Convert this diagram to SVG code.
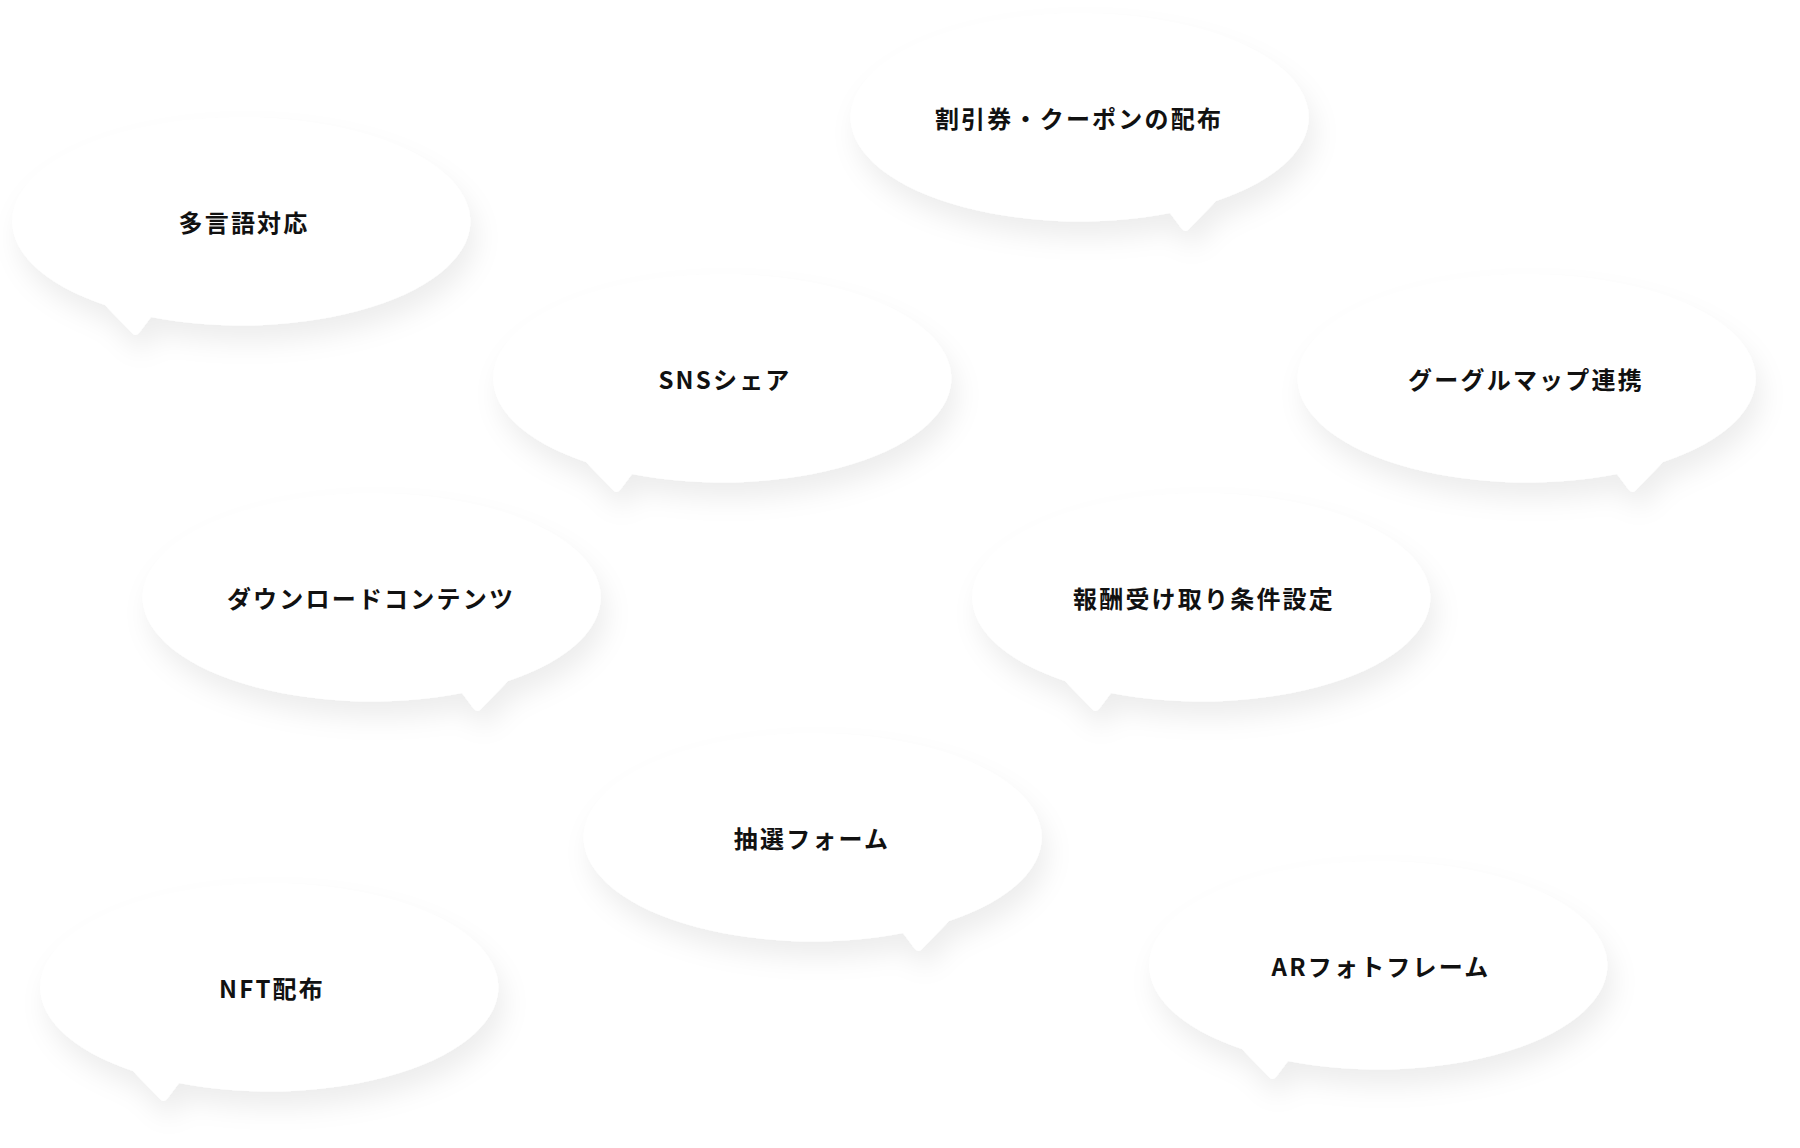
<svg xmlns="http://www.w3.org/2000/svg" width="1800" height="1148" viewBox="0 0 1800 1148">
  <defs>
    <filter id="sh" x="-25%" y="-30%" width="155%" height="180%">
      <feDropShadow dx="6" dy="16" stdDeviation="13" flood-color="#000" flood-opacity="0.07"/>
    </filter>
    <path id="bubL" d="M -138 83 L -111 111 Q -108 115 -104 111 L -92 95 A 229 104 0 1 0 -138 83 Z"/>
    <path id="bubR" d="M 92 95 L 104 111 Q 108 115 111 111 L 138 83 A 229 104 0 1 0 92 95 Z"/>
  </defs>
  <style>
    .b { fill: #ffffff; filter: url(#sh); }
    .t { font-family: "Noto Sans CJK JP", "Noto Sans", sans-serif; font-weight: 700; font-size: 24px; letter-spacing: 2.2px; fill: #111111; text-anchor: middle; }
  </style>
  <rect width="1800" height="1148" fill="#ffffff"/>
  <g id="connectors"></g>
  <g id="n1" transform="translate(243,222)">
    <use href="#bubL" class="b"/>
    <text class="t" x="1" y="10">多言語対応</text>
  </g>
  <g id="n2" transform="translate(1078,118)">
    <use href="#bubR" class="b"/>
    <text class="t" x="1" y="10">割引券・クーポンの配布</text>
  </g>
  <g id="n3" transform="translate(724,379)">
    <use href="#bubL" class="b"/>
    <text class="t" x="1" y="10">SNSシェア</text>
  </g>
  <g id="n4" transform="translate(1525,379)">
    <use href="#bubR" class="b"/>
    <text class="t" x="1" y="10">グーグルマップ連携</text>
  </g>
  <g id="n5" transform="translate(370,598)">
    <use href="#bubR" class="b"/>
    <text class="t" x="1" y="10">ダウンロードコンテンツ</text>
  </g>
  <g id="n6" transform="translate(1203,598)">
    <use href="#bubL" class="b"/>
    <text class="t" x="1" y="10">報酬受け取り条件設定</text>
  </g>
  <g id="n7" transform="translate(811,838)">
    <use href="#bubR" class="b"/>
    <text class="t" x="1" y="10">抽選フォーム</text>
  </g>
  <g id="n8" transform="translate(271,988)">
    <use href="#bubL" class="b"/>
    <text class="t" x="1" y="10">NFT配布</text>
  </g>
  <g id="n9" transform="translate(1380,966)">
    <use href="#bubL" class="b"/>
    <text class="t" x="1" y="10">ARフォトフレーム</text>
  </g>
</svg>
